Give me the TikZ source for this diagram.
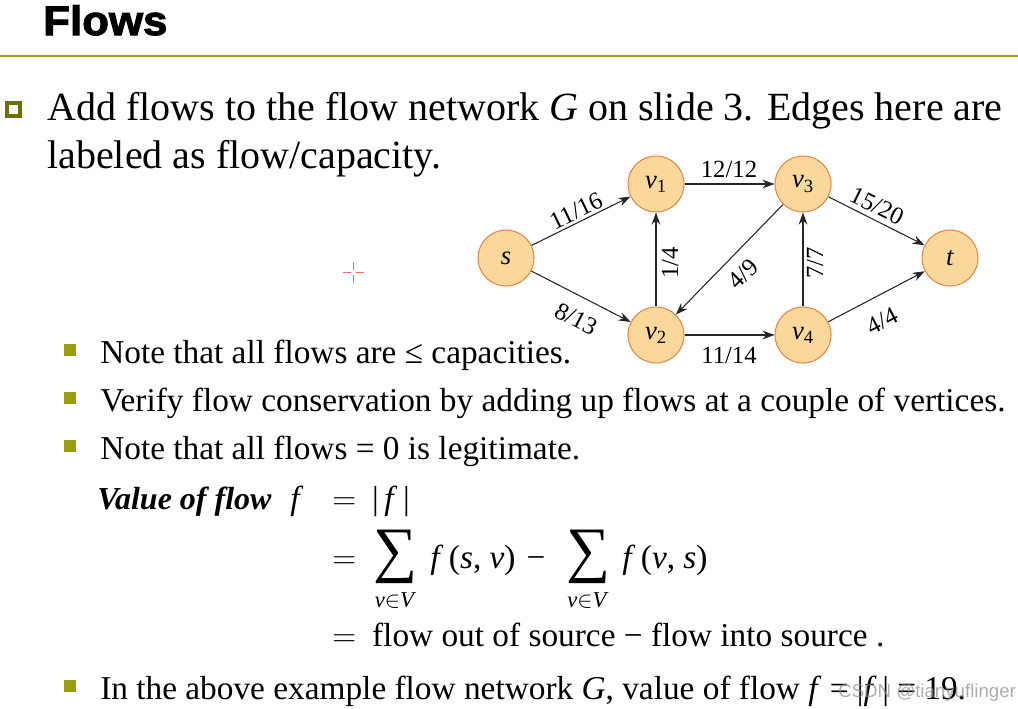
\documentclass[tikz,border=0pt]{standalone}
\usepackage{graphicx}
\usepackage{fontspec}
\setmainfont{Liberation Serif}
\newfontfamily\titlefont[FakeBold=2.5,FakeStretch=1.06]{Liberation Sans}
\newfontfamily\wmfont{Liberation Sans}
\usetikzlibrary{arrows.meta}
\definecolor{rulecol}{RGB}{160,160,20}
\definecolor{bulletdark}{RGB}{112,112,0}
\definecolor{bulletlight}{RGB}{155,155,20}
\definecolor{nodefill}{RGB}{250,216,156}
\definecolor{nodeedge}{RGB}{232,136,74}
\definecolor{crosscol}{RGB}{255,100,100}
\tikzset{
  txt/.style={anchor=base west, inner sep=0pt, font=\fontsize{30}{36}\selectfont},
  sub/.style={anchor=base west, inner sep=0pt, font=\fontsize{25}{30}\selectfont},
  bigsum/.style={inner sep=0pt, font=\fontsize{25}{30}\selectfont},
  sumlim/.style={anchor=base, inner sep=0pt, font=\fontsize{17}{20}\selectfont},
  hollowbullet/.style={draw=bulletdark, line width=3pt, minimum size=9.75pt, inner sep=0pt},
  fullbullet/.style={fill=bulletlight, minimum size=8.5pt, inner sep=0pt},
  vtx/.style={circle, draw=nodeedge, fill=nodefill, line width=0.8pt, minimum size=42pt, inner sep=0pt, font=\fontsize{20}{22}\selectfont},
  flowedge/.style={draw=black!85, line width=0.8pt, -{Stealth[length=9pt,width=6.5pt]}},
  elbl/.style={inner sep=0pt, font=\fontsize{18.5}{20}\selectfont}
}
\begin{document}
\begin{tikzpicture}[x=0.75pt,y=-0.75pt]
\useasboundingbox (0,0) rectangle (1018,708);
\fill[white] (0,0) rectangle (1018,708);

% title
\node[anchor=base west, inner sep=0pt, font={\titlefont\bfseries\fontsize{31}{33}\selectfont}] (title) at (43,35) {Flows};
\draw[rulecol, line width=1.5pt] (0,56) -- (1018,56);

% main bullet
\node[hollowbullet] (b0) at (13.5,109) {};
\node[txt] (l1) at (47,120) {Add flows to the flow network \textit{G} on slide 3. Edges here are};
\node[txt] (l2) at (47,168) {labeled as flow/capacity.};

% red cursor cross
\draw[crosscol, line width=1pt] (343,272.5) -- (351,272.5) (356,272.5) -- (364,272.5)
  (353.5,262) -- (353.5,270) (353.5,275) -- (353.5,283);

% graph
\node[vtx] (s) at (506,258) {\textit{s}};
\node[vtx] (v1) at (656,184) {\textit{v}\textsubscript{1}};
\node[vtx] (v3) at (803,184) {\textit{v}\textsubscript{3}};
\node[vtx] (t) at (950,258) {\textit{t}};
\node[vtx] (v2) at (656,335) {\textit{v}\textsubscript{2}};
\node[vtx] (v4) at (803,335) {\textit{v}\textsubscript{4}};

\draw[flowedge] (s) -- (v1);
\draw[flowedge] (s) -- (v2);
\draw[flowedge] (v1) -- (v3);
\draw[flowedge] (v2) -- (v1);
\draw[flowedge] (v3) -- (v2);
\draw[flowedge] (v2) -- (v4);
\draw[flowedge] (v4) -- (v3);
\draw[flowedge] (v3) -- (t);
\draw[flowedge] (v4) -- (t);

\node[elbl, rotate=26] (e1) at (576,211) {11/16};
\node[elbl, rotate=-27] (e2) at (576,319) {8/13};
\node[elbl] (e3) at (729,169) {12/12};
\node[elbl, rotate=90] (e4) at (670,263) {1/4};
\node[elbl, rotate=45] (e5) at (743,274) {4/9};
\node[elbl, rotate=90] (e6) at (815,263) {7/7};
\node[elbl, rotate=-26] (e7) at (877,206) {15/20};
\node[elbl, rotate=27] (e8) at (882,321) {4/4};
\node[elbl] (e9) at (729,355) {11/14};

% sub bullets
\node[fullbullet] (b1) at (70,350) {};
\node[sub] (s1) at (100,363) {Note that all flows are ≤ capacities.};
\node[fullbullet] (b2) at (70,398) {};
\node[sub] (s2) at (100,411) {Verify flow conservation by adding up flows at a couple of vertices.};
\node[fullbullet] (b3) at (70,446) {};
\node[sub] (s3) at (100,459) {Note that all flows = 0 is legitimate.};

% formula
\node[sub, font=\fontsize{24}{29}\selectfont] (vf) at (97,509) {\textbf{\textit{Value of flow}}};
\node[sub] (fa) at (290,509) {\textit{f}};
\node[sub] (fl1) at (332,509) {$=$\hspace{12pt}|\,\textit{f}\,|};
\node[sub] (eq2) at (332,568) {$=$};
\node[bigsum] (sig1) at (395.5,556.5) {\resizebox{33pt}{!}{∑}};
\node[sumlim] (lim1) at (395.5,607) {\textit{v}$\in$\textit{V}};
\node[sub] (fsv) at (430,568) {\textit{f}\,(\textit{s}, \textit{v}) \hspace{2pt}−};
\node[bigsum] (sig2) at (588,556.5) {\resizebox{33pt}{!}{∑}};
\node[sumlim] (lim2) at (588,607) {\textit{v}$\in$\textit{V}};
\node[sub] (fvs) at (622,568) {\textit{f}\,(\textit{v}, \textit{s})};
\node[sub] (fl3) at (332,646) {$=$\hspace{12pt}flow out of source − flow into source .};

\node[fullbullet] (b4) at (70,686) {};
\node[sub] (s4) at (100,699) {In the above example flow network \textit{G}, value of flow \textit{f} = |\textit{f}\,| = 19.};

% watermark
\node[anchor=base west, inner sep=0pt, text=black!45, opacity=0.7, font={\wmfont\fontsize{14}{16}\selectfont}] (wm) at (838,697) {CSDN @tianyuflinger};
\end{tikzpicture}
\end{document}
